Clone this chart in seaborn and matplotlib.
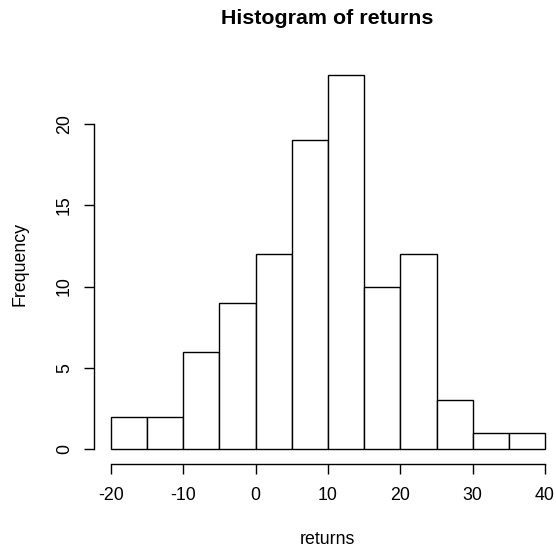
import matplotlib
matplotlib.use("Agg")
import matplotlib.pyplot as plt
import seaborn as sns
import numpy as np

# Data
bin_edges = [-20, -15, -10, -5, 0, 5, 10, 15, 20, 25, 30, 35, 40]
counts = [2, 2, 6, 9, 12, 19, 23, 10, 12, 3, 1, 1]
x_ticks = [-20, -10, 0, 10, 20, 30, 40]
y_ticks = [0, 5, 10, 15, 20]

centers = [(a + b) / 2 for a, b in zip(bin_edges[:-1], bin_edges[1:])]

sns.set_style("white")
plt.rcParams['font.family'] = ['Liberation Sans', 'DejaVu Sans']

W, H = 556, 550
fig = plt.figure(figsize=(W / 100, H / 100), dpi=100)
left, right, top, bottom = 93.6, 562.4, 60.3, 464.0
ax = fig.add_axes([left / W, 1 - bottom / H, (right - left) / W, (bottom - top) / H])

sns.histplot(x=centers, weights=counts, bins=bin_edges, ax=ax,
             color="white", edgecolor="black", linewidth=1.0, alpha=1.0)

ax.set_xlim(-22.4, 42.4)
ax.set_ylim(-0.92, 23.92)

for s in ["top", "right"]:
    ax.spines[s].set_visible(False)
ax.spines["left"].set_bounds(0, 20)
ax.spines["bottom"].set_bounds(-20, 40)
for s in ["left", "bottom"]:
    ax.spines[s].set_color("black")
    ax.spines[s].set_linewidth(1.0)

ax.set_xticks(x_ticks)
ax.set_xticklabels([str(v) for v in x_ticks])
ax.set_yticks(y_ticks)
ax.set_yticklabels([str(v) for v in y_ticks], rotation=90, va="center")
ax.tick_params(axis="both", direction="out", length=7.2, width=1.0, colors="black",
               labelsize=12.8, bottom=True, left=True, labelcolor="black")
ax.tick_params(axis="x", pad=9.0)
ax.tick_params(axis="y", pad=7.6)

ax.set_xlabel("")
ax.set_ylabel("")
fig.text(327 / W, 1 - 540 / H, "returns", ha="center", va="center", fontsize=12.8, color="black")
fig.text(20 / W, 1 - 264 / H, "Frequency", ha="center", va="center", rotation=90,
         fontsize=12.8, color="black")
fig.text(327 / W, 1 - 18 / H, "Histogram of returns", ha="center", va="center",
         fontsize=15.4, fontweight="bold", color="black")

fig.savefig("out.png", dpi=100)
